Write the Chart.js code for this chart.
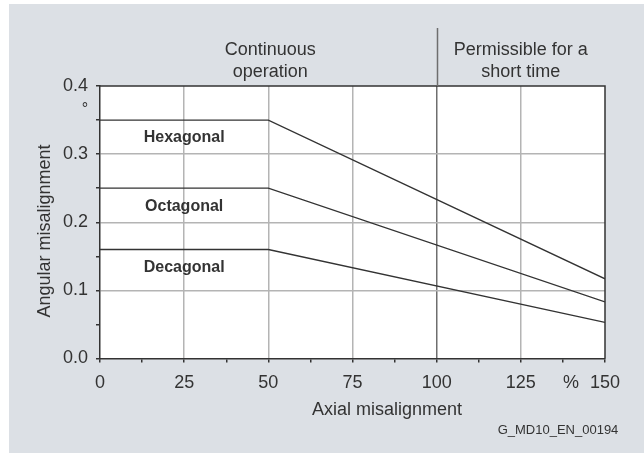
<!DOCTYPE html>
<html>
<head>
<meta charset="utf-8">
<title>Angular misalignment</title>
<script src="https://cdn.jsdelivr.net/npm/chart.js@4.4.1/dist/chart.umd.min.js"></script>
<style>
  html, body { margin: 0; padding: 0; background: #fff; }
  canvas { display: block; }
</style>
</head>
<body>
<canvas id="chart" width="644" height="454"></canvas>
<script>
// axial misalignment (%) where each limit curve changes slope
const axialPoints = [0, 50, 150];
const hexagonal = [0.35, 0.35, 0.117];
const octagonal = [0.25, 0.25, 0.083];
const decagonal = [0.16, 0.16, 0.053];
const seriesNames = ["Hexagonal", "Octagonal", "Decagonal"];
// where each series name sits (x value, y value)
const nameX = [25, 25, 25];
const nameY = [0.324, 0.2226, 0.1337];

const xTitle = "Axial misalignment";
const yTitle = "Angular misalignment";
const zoneContinuous = ["Continuous", "operation"];
const zoneShort = ["Permissible for a", "short time"];
const docId = "G_MD10_EN_00194";

const FONT = "'Liberation Sans', Arial, sans-serif";
const INK = "#333333";
const PANEL = "rgb(220, 224, 229)";

function toPoints(values) {
  return values.map((v, i) => ({ x: axialPoints[i], y: v }));
}

function isMultiple(v, step) {
  const r = v / step;
  return Math.abs(r - Math.round(r)) < 1e-6;
}

const frame = {
  id: "frame",
  beforeDraw(chart) {
    const { ctx, chartArea: a } = chart;
    ctx.save();
    ctx.fillStyle = "#fff";
    ctx.fillRect(0, 0, chart.width, chart.height);
    ctx.fillStyle = PANEL;
    ctx.fillRect(9, 4, chart.width - 9, 449);
    ctx.fillStyle = "#fff";
    ctx.fillRect(a.left, a.top, a.right - a.left, a.bottom - a.top);
    ctx.restore();
  },
  afterDraw(chart) {
    const { ctx, chartArea: a, scales } = chart;
    const x = scales.x, y = scales.y;
    ctx.save();

    // top and right edge of the plot box
    ctx.strokeStyle = INK;
    ctx.lineWidth = 1.5;
    ctx.beginPath();
    ctx.moveTo(a.left, a.top);
    ctx.lineTo(a.right, a.top);
    ctx.lineTo(a.right, a.bottom);
    ctx.stroke();

    // 100 % boundary runs up between the two zone captions
    const x100 = Math.round(x.getPixelForValue(100)) + 0.5;
    ctx.strokeStyle = "#6e6e6e";
    ctx.lineWidth = 1.5;
    ctx.beginPath();
    ctx.moveTo(x100, 28);
    ctx.lineTo(x100, a.top);
    ctx.stroke();

    ctx.fillStyle = INK;
    ctx.textAlign = "center";
    ctx.textBaseline = "middle";
    ctx.font = "18px " + FONT;
    const cx1 = x.getPixelForValue(50) + 2;
    const cx2 = x.getPixelForValue(125);
    ctx.fillText(zoneContinuous[0], cx1, 50);
    ctx.fillText(zoneContinuous[1], cx1, 72);
    ctx.fillText(zoneShort[0], cx2, 50);
    ctx.fillText(zoneShort[1], cx2, 72);

    // degree sign under the top tick label
    ctx.font = "16px " + FONT;
    ctx.textBaseline = "alphabetic";
    ctx.fillText("°", 85, 114);

    // percent sign ahead of the last tick label
    ctx.font = "18px " + FONT;
    ctx.textBaseline = "middle";
    ctx.fillText("%", 571, 383);

    ctx.fillText(xTitle, 387, 410);

    ctx.save();
    ctx.translate(45, 231);
    ctx.rotate(-Math.PI / 2);
    ctx.fillText(yTitle, 0, 0);
    ctx.restore();

    ctx.font = "13px " + FONT;
    ctx.fillText(docId, 558, 430);

    ctx.font = "bold 16px " + FONT;
    seriesNames.forEach((name, i) => {
      ctx.fillText(name, x.getPixelForValue(nameX[i]), y.getPixelForValue(nameY[i]));
    });

    ctx.restore();
  }
};

const lineStyle = {
  borderColor: INK,
  borderWidth: 1.3,
  pointRadius: 0,
  tension: 0,
  fill: false
};

new Chart(document.getElementById("chart"), {
  type: "line",
  data: {
    datasets: [
      { label: seriesNames[0], data: toPoints(hexagonal), ...lineStyle },
      { label: seriesNames[1], data: toPoints(octagonal), ...lineStyle },
      { label: seriesNames[2], data: toPoints(decagonal), ...lineStyle }
    ]
  },
  options: {
    responsive: false,
    animation: false,
    devicePixelRatio: 1,
    layout: { padding: { top: 86, right: 39, left: 0, bottom: 0 } },
    plugins: {
      legend: { display: false },
      tooltip: { enabled: false }
    },
    scales: {
      x: {
        type: "linear",
        min: 0,
        max: 150,
        afterFit(scale) { scale.height = 95.5; },
        ticks: {
          stepSize: 12.5,
          color: INK,
          font: { family: FONT, size: 18 },
          padding: 10,
          maxRotation: 0,
          autoSkip: false,
          callback: (v) => (isMultiple(v, 25) ? String(v) : "")
        },
        grid: {
          lineWidth: 1.5,
          tickLength: 4,
          tickColor: INK,
          color: (c) => {
            const v = c.tick ? c.tick.value : 0;
            if (!isMultiple(v, 25) || v === 0 || v === 150) return "rgba(0,0,0,0)";
            return v === 100 ? "#6e6e6e" : "#b4b4b4";
          }
        },
        border: { color: INK, width: 1.5 }
      },
      y: {
        min: 0,
        max: 0.4,
        afterFit(scale) { scale.width = 100; },
        ticks: {
          stepSize: 0.05,
          color: INK,
          font: { family: FONT, size: 18 },
          padding: 8,
          autoSkip: false,
          callback: (v) => (isMultiple(v, 0.1) ? v.toFixed(1) : "")
        },
        grid: {
          lineWidth: 1.5,
          tickLength: 4,
          tickColor: INK,
          color: (c) => {
            const v = c.tick ? c.tick.value : 0;
            if (!isMultiple(v, 0.1) || v < 0.05 || v > 0.35) return "rgba(0,0,0,0)";
            return "#b4b4b4";
          }
        },
        border: { color: INK, width: 1.5 }
      }
    }
  },
  plugins: [frame]
});
</script>
</body>
</html>
